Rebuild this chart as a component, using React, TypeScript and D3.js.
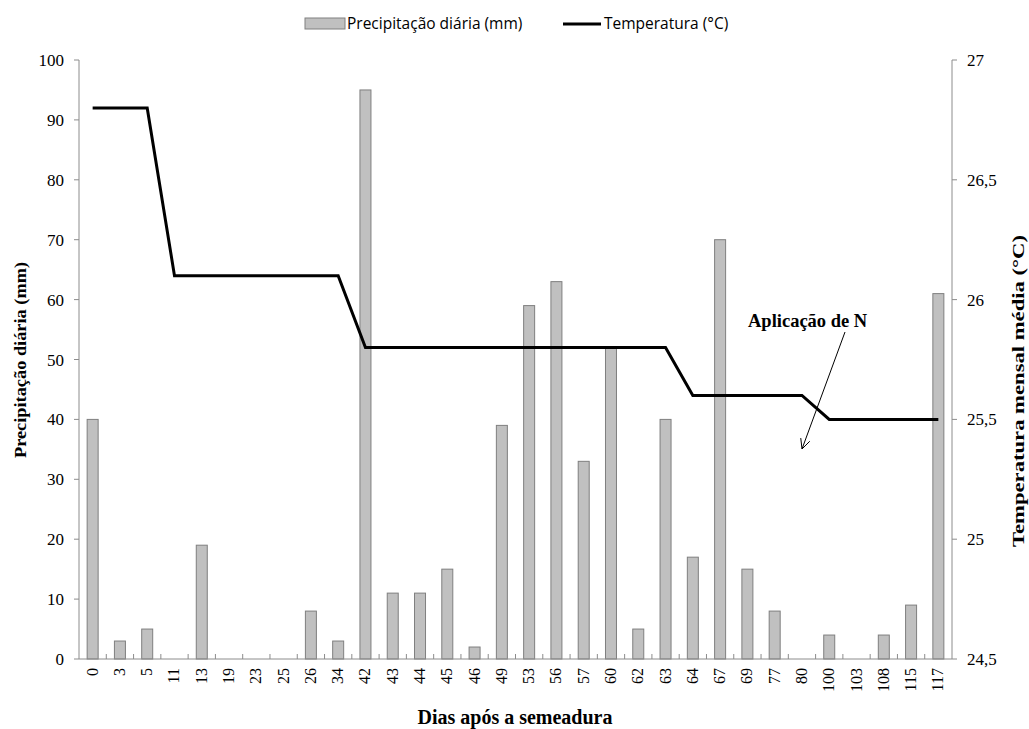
import * as d3 from "d3";

const days = ["0", "3", "5", "11", "13", "19", "23", "25", "26", "34", "42", "43", "44", "45", "46", "49", "53", "56", "57", "60", "62", "63", "64", "67", "69", "77", "80", "100", "103", "108", "115", "117"];
const precipitation = [40, 3, 5, 0, 19, 0, 0, 0, 8, 3, 95, 11, 11, 15, 2, 39, 59, 63, 33, 52, 5, 40, 17, 70, 15, 8, 0, 4, 0, 4, 9, 61];
const temperature = [26.8, 26.8, 26.8, 26.1, 26.1, 26.1, 26.1, 26.1, 26.1, 26.1, 25.8, 25.8, 25.8, 25.8, 25.8, 25.8, 25.8, 25.8, 25.8, 25.8, 25.8, 25.8, 25.6, 25.6, 25.6, 25.6, 25.6, 25.5, 25.5, 25.5, 25.5, 25.5];
const precipTicks = [0, 10, 20, 30, 40, 50, 60, 70, 80, 90, 100];
const tempTicks = [24.5, 25, 25.5, 26, 26.5, 27];

const W = 1029;
const H = 729;
const LEFT = 79;
const RIGHT = 952;
const TOP = 60;
const BOTTOM = 659;
const SERIF = "'Liberation Serif', 'Times New Roman', serif";
const SANS = "'Open Sans', 'Noto Sans', sans-serif";
const AXIS = "#8c8c8c";

export default function App() {
  const x = d3.scaleBand<string>().domain(days).range([LEFT, RIGHT]).padding(0);
  const yP = d3.scaleLinear().domain([0, 100]).range([BOTTOM, TOP]);
  const yT = d3.scaleLinear().domain([24.5, 27]).range([BOTTOM, TOP]);
  const bw = x.bandwidth();
  const barW = 11;

  const line = d3
    .line<number>()
    .x((_, i) => (x(days[i]) ?? 0) + bw / 2)
    .y((d) => yT(d));

  const fmt = (v: number) => String(v).replace(".", ",");

  // annotation arrow
  const ax1 = 845, ay1 = 326, ax2 = 802, ay2 = 449;
  const ang = Math.atan2(ay2 - ay1, ax2 - ax1);
  const hl = 11;
  const h1 = [ax2 - hl * Math.cos(ang - 0.45), ay2 - hl * Math.sin(ang - 0.45)];
  const h2 = [ax2 - hl * Math.cos(ang + 0.45), ay2 - hl * Math.sin(ang + 0.45)];

  return (
    <div style={{ position: "fixed", left: 0, top: 0, width: W, height: H, overflow: "hidden" }}>
      <svg width={W} height={H} style={{ display: "block" }}>
        <rect width={W} height={H} fill="#fff" />
        {/* legend */}
        <rect x={305} y={18} width={40} height={11} fill="#c0c0c0" stroke="#808080" />
        <text x={347} y={29} fontFamily={SANS} fontSize={15.5} fill="#000">Precipitação diária (mm)</text>
        <line x1={563} x2={601} y1={24} y2={24} stroke="#000" strokeWidth={3} />
        <text x={604} y={29} fontFamily={SANS} fontSize={15.5} fill="#000">Temperatura (°C)</text>

        {/* bars */}
        {precipitation.map((v, i) => (
          <rect
            key={i}
            x={(x(days[i]) ?? 0) + bw / 2 - barW / 2}
            y={yP(v)}
            width={barW}
            height={BOTTOM - yP(v)}
            fill="#c0c0c0"
            stroke="#7f7f7f"
            strokeWidth={1}
          />
        ))}

        {/* axes */}
        <line x1={LEFT} x2={LEFT} y1={TOP} y2={BOTTOM} stroke={AXIS} />
        <line x1={RIGHT} x2={RIGHT} y1={TOP} y2={BOTTOM} stroke={AXIS} />
        <line x1={LEFT} x2={RIGHT} y1={BOTTOM} y2={BOTTOM} stroke={AXIS} />
        {precipTicks.map((t) => (
          <g key={t}>
            <line x1={LEFT - 5} x2={LEFT} y1={yP(t)} y2={yP(t)} stroke={AXIS} />
            <text x={64} y={yP(t) + 6} textAnchor="end" fontFamily={SERIF} fontSize={17}>{t}</text>
          </g>
        ))}
        {tempTicks.map((t) => (
          <g key={t}>
            <line x1={RIGHT} x2={RIGHT + 5} y1={yT(t)} y2={yT(t)} stroke={AXIS} />
            <text x={967} y={yT(t) + 6} textAnchor="start" fontFamily={SERIF} fontSize={17}>{fmt(t)}</text>
          </g>
        ))}
        {days.map((d, i) => (
          <g key={d}>
            {i > 0 && <line x1={x(d) ?? 0} x2={x(d) ?? 0} y1={BOTTOM - 5} y2={BOTTOM} stroke={AXIS} />}
            <text
              transform={`translate(${(x(d) ?? 0) + bw / 2 + 5},${668}) rotate(-90)`}
              textAnchor="end"
              fontFamily={SERIF}
              fontSize={16}
            >
              {d}
            </text>
          </g>
        ))}

        {/* temperature line */}
        <path d={line(temperature) ?? ""} fill="none" stroke="#000" strokeWidth={3} strokeLinejoin="miter" />

        {/* annotation */}
        <text x={748} y={327} fontFamily={SERIF} fontSize={18.5} fontWeight="bold">Aplicação de N</text>
        <line x1={ax1} y1={ay1 + 6} x2={ax2} y2={ay2} stroke="#000" strokeWidth={1} />
        <polyline points={`${h1[0]},${h1[1]} ${ax2},${ay2} ${h2[0]},${h2[1]}`} fill="none" stroke="#000" strokeWidth={1} />

        {/* axis titles */}
        <text x={515} y={724} textAnchor="middle" fontFamily={SERIF} fontSize={20} fontWeight="bold">Dias após a semeadura</text>
        <text
          transform="translate(26,360) rotate(-90)"
          textAnchor="middle"
          fontFamily={SERIF}
          fontSize={17}
          fontWeight="bold"
          textLength={196}
          lengthAdjust="spacingAndGlyphs"
        >
          Precipitação diária (mm)
        </text>
        <text
          transform="translate(1024,391) rotate(-90)"
          textAnchor="middle"
          fontFamily={SERIF}
          fontSize={17}
          fontWeight="bold"
          textLength={312}
          lengthAdjust="spacingAndGlyphs"
        >
          Temperatura mensal média (°C)
        </text>
      </svg>
    </div>
  );
}
